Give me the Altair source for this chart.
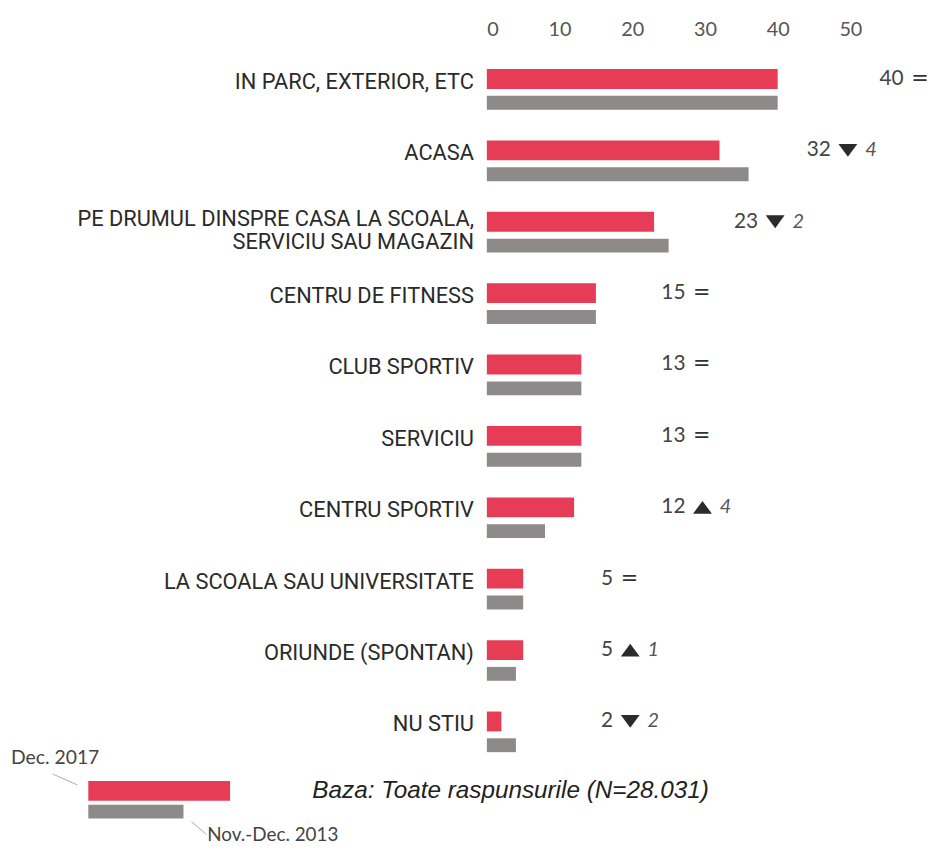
import altair as alt
import pandas as pd

# ---- data ----
categories = [
    "IN PARC, EXTERIOR, ETC",
    "ACASA",
    "PE DRUMUL DINSPRE CASA LA SCOALA,\nSERVICIU SAU MAGAZIN",
    "CENTRU DE FITNESS",
    "CLUB SPORTIV",
    "SERVICIU",
    "CENTRU SPORTIV",
    "LA SCOALA SAU UNIVERSITATE",
    "ORIUNDE (SPONTAN)",
    "NU STIU",
]
dec2017 = [40, 32, 23, 15, 13, 13, 12, 5, 5, 2]
nov2013 = [40, 36, 25, 15, 13, 13, 8, 5, 4, 4]
tick_values = [0, 10, 20, 30, 40, 50]
series_names = ["Dec. 2017", "Nov.-Dec. 2013"]
note = "Baza: Toate raspunsurile (N=28.031)"

RED = "#e63c55"
GRAY = "#8f8a8a"
PX = 440 / 60.0          # pixels per percentage point
LABEL_FONT = "Roboto"
TRI_UP = "M-1,0.68L1,0.68L0,-0.68Z"
TRI_DOWN = "M-1,-0.68L1,-0.68L0,0.68Z"

rows = []
for c, a, b in zip(categories, dec2017, nov2013):
    lines = c.split("\n")
    d = a - b
    two = len(lines) > 1
    # annotation column sits after the bar's decade
    lab_x = (a // 10) * 10 + (14 if a >= 10 else 15.7)
    sym_x = lab_x + (len(str(a)) * 12 + 8) / PX
    rows.append(dict(
        cat=c,
        line1=lines[0], line2=lines[1] if two else "",
        v17=a, v13=b, num=str(a),
        eq="=" if d == 0 else "",
        dir="none" if d == 0 else ("down" if d < 0 else "up"),
        delta="" if d == 0 else str(abs(d)),
        lab_x=lab_x, sym_x=sym_x,
        tri_x=sym_x + 9.5 / PX,
        delta_x=sym_x + 27 / PX,
    ))
df = pd.DataFrame(rows)

yenc = alt.Y("cat:N", sort=categories, axis=None,
             scale=alt.Scale(paddingInner=0, paddingOuter=0))
xscale = alt.Scale(domain=[0, 60], nice=False)

base = alt.Chart(df)

red = base.mark_bar(size=20, color=RED).encode(
    x=alt.X("v17:Q", scale=xscale,
            axis=alt.Axis(orient="top", values=tick_values, title=None, domain=False,
                          ticks=False, grid=False, labelFont="Lato", labelFontSize=20,
                          labelColor="#555555", labelPadding=4)),
    y=yenc,
)
gray = base.mark_bar(size=14, color=GRAY, yOffset=24).encode(
    x=alt.X("v13:Q", scale=xscale), y=yenc
)

one_line = base.transform_filter("datum.line2 == ''")
two_line = base.transform_filter("datum.line2 != ''")
lab_single = one_line.mark_text(align="right", baseline="middle", font=LABEL_FONT,
                                fontSize=22, color="#2a2a2a", dx=-13, dy=3).encode(
    x=alt.value(0), y=yenc, text="line1:N")
lab_first = two_line.mark_text(align="right", baseline="middle", font=LABEL_FONT,
                               fontSize=22, color="#2a2a2a", dx=-13, dy=-3).encode(
    x=alt.value(0), y=yenc, text="line1:N")
lab_second = two_line.mark_text(align="right", baseline="middle", font=LABEL_FONT,
                                fontSize=22, color="#2a2a2a", dx=-13, dy=20).encode(
    x=alt.value(0), y=yenc, text="line2:N")

num = base.mark_text(align="left", baseline="middle", font="Lato", fontSize=21,
                     color="#444444").encode(
    x=alt.X("lab_x:Q", scale=xscale), y=yenc, text="num:N")
eq = base.mark_text(align="left", baseline="middle", font="DejaVu Sans", fontSize=21,
                    color="#333333").encode(
    x=alt.X("sym_x:Q", scale=xscale), y=yenc, text="eq:N")
tri = base.transform_filter("datum.dir != 'none'").mark_point(
    filled=True, size=361, opacity=1, color="#2b2b2b").encode(
    x=alt.X("tri_x:Q", scale=xscale), y=yenc,
    shape=alt.Shape("dir:N", scale=alt.Scale(domain=["up", "down"],
                                              range=[TRI_UP, TRI_DOWN]), legend=None))
delta = base.mark_text(align="left", baseline="middle", font="Lato", fontSize=20,
                       fontStyle="italic", color="#555555").encode(
    x=alt.X("delta_x:Q", scale=xscale), y=yenc, text="delta:N")

one = alt.Chart(pd.DataFrame({"k": [0]}))
leg_red = one.mark_rect(color=RED).encode(
    x=alt.value(-402), x2=alt.value(-259), y=alt.value(744), y2=alt.value(764))
leg_gray = one.mark_rect(color=GRAY).encode(
    x=alt.value(-402), x2=alt.value(-306), y=alt.value(768), y2=alt.value(782))
lead1 = one.mark_rule(color="#aaaaaa", strokeWidth=1).encode(
    x=alt.value(-438), x2=alt.value(-413), y=alt.value(737), y2=alt.value(748))
lead2 = one.mark_rule(color="#aaaaaa", strokeWidth=1).encode(
    x=alt.value(-298), x2=alt.value(-283), y=alt.value(785), y2=alt.value(798))
leg_t1 = one.mark_text(align="left", baseline="alphabetic", font="Lato", fontSize=19.5,
                       color="#444444", text=series_names[0]).encode(
    x=alt.value(-480), y=alt.value(727))
leg_t2 = one.mark_text(align="left", baseline="alphabetic", font="Lato", fontSize=19,
                       color="#444444", text=series_names[1]).encode(
    x=alt.value(-282), y=alt.value(805))
note_t = one.mark_text(align="left", baseline="middle", font="Liberation Sans",
                       fontSize=24.5, fontStyle="italic", color="#222222", text=note).encode(
    x=alt.value(-176), y=alt.value(754))

chart = alt.layer(red, gray, lab_single, lab_first, lab_second, num, eq, tri, delta,
                  leg_red, leg_gray, lead1, lead2, leg_t1, leg_t2, note_t).properties(
    width=440, height=720,
    autosize=alt.AutoSizeParams(type="none"),
    padding={"left": 483, "top": 32, "right": 8, "bottom": 85},
).configure_view(stroke=None)

chart.save("out.html", embed_options={"renderer": "svg", "actions": False})
